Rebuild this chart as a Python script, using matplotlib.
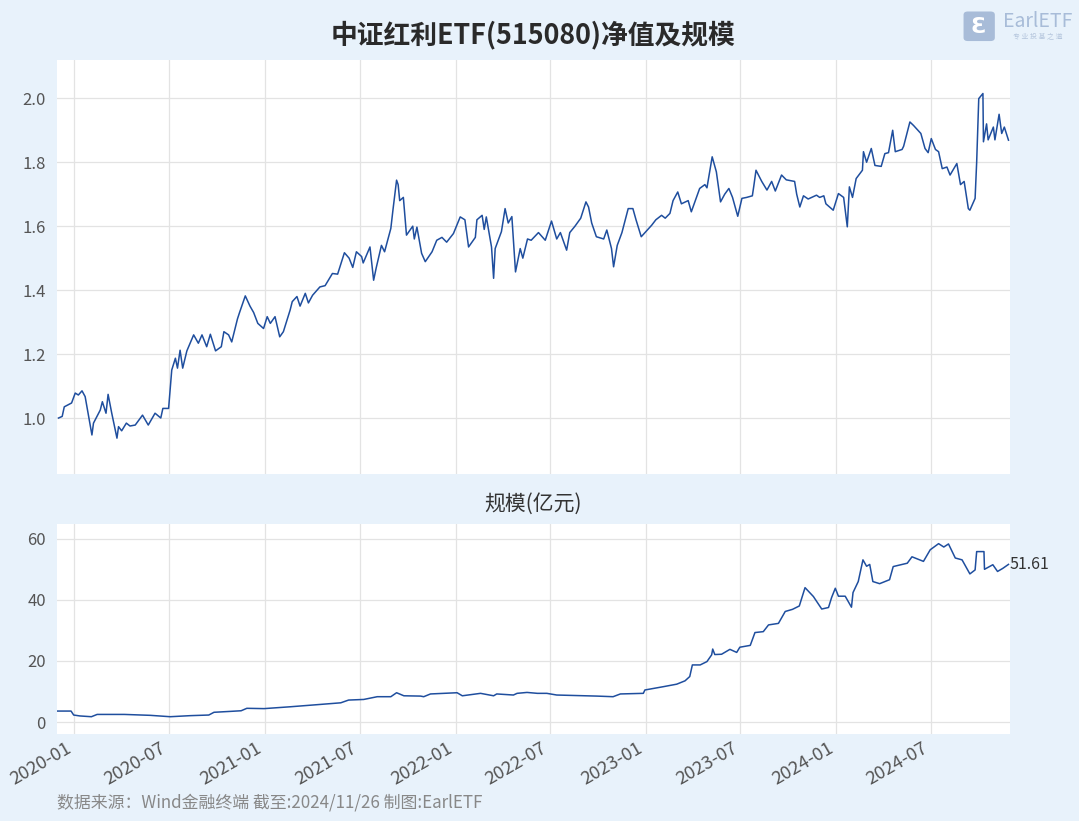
import matplotlib.pyplot as plt
import matplotlib.dates as mdates
from matplotlib.patches import FancyBboxPatch
import pandas as pd

plt.rcParams['font.family'] = ['Noto Sans CJK SC', 'DejaVu Sans']

# 净值
nav_dates = ['2019-12-02', '2019-12-09', '2019-12-13', '2019-12-27', '2020-01-03', '2020-01-09', '2020-01-16',
             '2020-01-22', '2020-02-04', '2020-02-07', '2020-02-20', '2020-02-24', '2020-03-02', '2020-03-06',
             '2020-03-13', '2020-03-23', '2020-03-26', '2020-04-01', '2020-04-10', '2020-04-17', '2020-04-27',
             '2020-05-11', '2020-05-22', '2020-06-04', '2020-06-15', '2020-06-19', '2020-06-30', '2020-07-06',
             '2020-07-13', '2020-07-17', '2020-07-22', '2020-07-27', '2020-08-04', '2020-08-17', '2020-08-26',
             '2020-09-02', '2020-09-11', '2020-09-18', '2020-09-28', '2020-10-09', '2020-10-14', '2020-10-23',
             '2020-10-29', '2020-11-09', '2020-11-13', '2020-11-24', '2020-12-03', '2020-12-10', '2020-12-18',
             '2020-12-29', '2021-01-05', '2021-01-11', '2021-01-20', '2021-01-29', '2021-02-05', '2021-02-18',
             '2021-02-22', '2021-03-03', '2021-03-09', '2021-03-19', '2021-03-25', '2021-04-02', '2021-04-16',
             '2021-04-26', '2021-05-10', '2021-05-20', '2021-06-02', '2021-06-11', '2021-06-18', '2021-06-25',
             '2021-07-05', '2021-07-08', '2021-07-21', '2021-07-28', '2021-08-02', '2021-08-12', '2021-08-18',
             '2021-08-30', '2021-09-03', '2021-09-10', '2021-09-13', '2021-09-16', '2021-09-23', '2021-09-29',
             '2021-10-11', '2021-10-14', '2021-10-19', '2021-10-28', '2021-11-04', '2021-11-17', '2021-11-26',
             '2021-12-06', '2021-12-15', '2021-12-28', '2022-01-10', '2022-01-19', '2022-01-26', '2022-02-08',
             '2022-02-11', '2022-02-21', '2022-02-25', '2022-03-01', '2022-03-11', '2022-03-15', '2022-03-18',
             '2022-03-30', '2022-04-06', '2022-04-12', '2022-04-19', '2022-04-26', '2022-05-05', '2022-05-10',
             '2022-05-19', '2022-05-26', '2022-06-09', '2022-06-22', '2022-07-04', '2022-07-14', '2022-07-21',
             '2022-08-02', '2022-08-08', '2022-08-18', '2022-08-29', '2022-09-08', '2022-09-13', '2022-09-19',
             '2022-09-28', '2022-10-12', '2022-10-18', '2022-10-27', '2022-10-31', '2022-11-07', '2022-11-16',
             '2022-11-28', '2022-12-07', '2022-12-13', '2022-12-23', '2023-01-03', '2023-01-12', '2023-01-20',
             '2023-01-31', '2023-02-07', '2023-02-16', '2023-02-22', '2023-03-03', '2023-03-10', '2023-03-23',
             '2023-03-29', '2023-04-14', '2023-04-24', '2023-04-28', '2023-05-08', '2023-05-16', '2023-05-24',
             '2023-06-01', '2023-06-09', '2023-06-16', '2023-06-26', '2023-07-04', '2023-07-13', '2023-07-24',
             '2023-07-27', '2023-07-31', '2023-08-11', '2023-08-21', '2023-08-30', '2023-09-06', '2023-09-18',
             '2023-09-27', '2023-10-13', '2023-10-17', '2023-10-23', '2023-10-30', '2023-11-08', '2023-11-24',
             '2023-11-30', '2023-12-08', '2023-12-12', '2023-12-26', '2024-01-05', '2024-01-15', '2024-01-22',
             '2024-01-26', '2024-02-01', '2024-02-08', '2024-02-20', '2024-02-22', '2024-02-28', '2024-03-08',
             '2024-03-15', '2024-03-27', '2024-04-03', '2024-04-10', '2024-04-18', '2024-04-23', '2024-05-06',
             '2024-05-09', '2024-05-21', '2024-05-28', '2024-06-11', '2024-06-19', '2024-06-25', '2024-07-01',
             '2024-07-09', '2024-07-15', '2024-07-22', '2024-07-31', '2024-08-06', '2024-08-19', '2024-08-26',
             '2024-09-02', '2024-09-10', '2024-09-13', '2024-09-23', '2024-09-26', '2024-09-30', '2024-10-08',
             '2024-10-09', '2024-10-15', '2024-10-18', '2024-10-28', '2024-10-31', '2024-11-08', '2024-11-13',
             '2024-11-18', '2024-11-26']
nav_values = [1.000, 1.005, 1.035, 1.047, 1.078, 1.072, 1.085,
              1.067, 0.947, 0.984, 1.025, 1.051, 1.015, 1.074,
              1.015, 0.937, 0.973, 0.960, 0.984, 0.975, 0.978,
              1.009, 0.978, 1.015, 1.000, 1.030, 1.030, 1.150,
              1.187, 1.156, 1.212, 1.156, 1.210, 1.260, 1.234,
              1.260, 1.223, 1.262, 1.210, 1.223, 1.270, 1.260,
              1.238, 1.310, 1.330, 1.382, 1.350, 1.330, 1.296,
              1.280, 1.317, 1.296, 1.317, 1.254, 1.270, 1.338,
              1.364, 1.380, 1.350, 1.390, 1.360, 1.384, 1.410,
              1.414, 1.452, 1.450, 1.517, 1.500, 1.471, 1.520,
              1.505, 1.485, 1.535, 1.431, 1.470, 1.540, 1.520,
              1.593, 1.650, 1.744, 1.730, 1.680, 1.690, 1.572,
              1.600, 1.560, 1.597, 1.515, 1.489, 1.520, 1.556,
              1.565, 1.550, 1.577, 1.629, 1.620, 1.535, 1.565,
              1.620, 1.634, 1.590, 1.629, 1.535, 1.437, 1.530,
              1.583, 1.655, 1.610, 1.630, 1.457, 1.530, 1.500,
              1.560, 1.556, 1.580, 1.556, 1.616, 1.560, 1.580,
              1.525, 1.580, 1.600, 1.625, 1.676, 1.660, 1.610,
              1.567, 1.560, 1.588, 1.530, 1.473, 1.540, 1.580,
              1.655, 1.655, 1.620, 1.567, 1.587, 1.603, 1.620,
              1.634, 1.625, 1.640, 1.680, 1.707, 1.670, 1.680,
              1.645, 1.718, 1.730, 1.720, 1.817, 1.770, 1.676,
              1.700, 1.718, 1.690, 1.631, 1.687, 1.690, 1.695,
              1.728, 1.775, 1.740, 1.713, 1.740, 1.710, 1.760,
              1.745, 1.740, 1.700, 1.660, 1.695, 1.685, 1.697,
              1.690, 1.695, 1.670, 1.650, 1.702, 1.690, 1.598,
              1.723, 1.690, 1.749, 1.775, 1.833, 1.800, 1.843,
              1.790, 1.787, 1.827, 1.830, 1.900, 1.833, 1.840,
              1.850, 1.926, 1.915, 1.890, 1.843, 1.830, 1.874,
              1.840, 1.833, 1.780, 1.785, 1.760, 1.796, 1.730,
              1.740, 1.655, 1.650, 1.687, 1.800, 1.999, 2.015,
              1.864, 1.920, 1.870, 1.910, 1.870, 1.950, 1.890,
              1.910, 1.869]

# 规模 (亿元)
aum_dates = ['2019-11-29', '2019-12-26', '2019-12-31', '2020-01-12', '2020-02-03', '2020-02-14', '2020-04-06',
             '2020-05-26', '2020-07-03', '2020-08-11', '2020-09-15', '2020-09-25', '2020-10-27', '2020-11-16',
             '2020-11-27', '2020-12-30', '2021-02-18', '2021-04-04', '2021-05-26', '2021-06-10', '2021-07-09',
             '2021-08-04', '2021-08-30', '2021-09-10', '2021-09-24', '2021-10-26', '2021-11-01', '2021-11-14',
             '2022-01-04', '2022-01-14', '2022-02-18', '2022-03-15', '2022-03-21', '2022-04-22', '2022-04-29',
             '2022-05-18', '2022-06-07', '2022-06-25', '2022-07-14', '2022-09-29', '2022-10-30', '2022-11-13',
             '2022-12-27', '2022-12-30', '2023-02-04', '2023-03-01', '2023-03-17', '2023-03-26', '2023-03-31',
             '2023-04-15', '2023-04-28', '2023-05-07', '2023-05-09', '2023-05-13', '2023-05-26', '2023-06-11',
             '2023-06-24', '2023-06-30', '2023-07-20', '2023-07-29', '2023-08-14', '2023-08-24', '2023-09-12',
             '2023-09-25', '2023-10-09', '2023-10-22', '2023-11-02', '2023-11-18', '2023-12-04', '2023-12-17',
             '2023-12-23', '2023-12-30', '2024-01-05', '2024-01-18', '2024-01-30', '2024-02-02', '2024-02-12',
             '2024-02-21', '2024-02-28', '2024-03-05', '2024-03-11', '2024-03-24', '2024-04-12', '2024-04-19',
             '2024-05-16', '2024-05-25', '2024-06-16', '2024-06-29', '2024-07-15', '2024-07-25', '2024-08-03',
             '2024-08-16', '2024-08-29', '2024-09-13', '2024-09-23', '2024-09-26', '2024-10-10', '2024-10-11',
             '2024-10-27', '2024-11-05', '2024-11-15', '2024-11-26']
aum_values = [3.6, 3.6, 2.3, 2.0, 1.75, 2.5, 2.5,
              2.2, 1.75, 2.1, 2.3, 3.2, 3.5, 3.7,
              4.5, 4.4, 5.0, 5.6, 6.3, 7.2, 7.4,
              8.3, 8.3, 9.6, 8.6, 8.5, 8.3, 9.2,
              9.6, 8.6, 9.4, 8.6, 9.2, 8.85, 9.4,
              9.7, 9.4, 9.4, 8.85, 8.5, 8.3, 9.2,
              9.4, 10.5, 11.6, 12.4, 13.5, 14.9, 18.7,
              18.7, 19.8, 22.0, 23.9, 22.1, 22.2, 23.8,
              22.8, 24.5, 25.1, 29.3, 29.6, 31.8, 32.3,
              36.2, 36.9, 38.0, 44.0, 41.1, 37.0, 37.5,
              40.8, 43.8, 41.2, 41.2, 37.6, 42.4, 46.0,
              53.1, 51.0, 51.6, 46.0, 45.3, 46.6, 50.9,
              52.0, 54.1, 52.6, 56.4, 58.4, 57.3, 58.3,
              53.7, 53.1, 48.5, 49.8, 55.8, 55.8, 50.0,
              51.5, 49.3, 50.3, 51.61]

nav_x = pd.to_datetime(nav_dates)
aum_x = pd.to_datetime(aum_dates)

bg = '#e8f2fb'
line_color = '#1f4e9e'
tick_color = '#555555'

fig = plt.figure(figsize=(10.79, 8.21), dpi=100, facecolor=bg)
ax1 = fig.add_axes([0.0528, 0.4227, 0.8833, 0.5043])
ax2 = fig.add_axes([0.0528, 0.1060, 0.8833, 0.2560], sharex=ax1)

ax1.plot(nav_x, nav_values, color=line_color, linewidth=1.1)
ax2.plot(aum_x, aum_values, color=line_color, linewidth=1.1)

for ax in (ax1, ax2):
    ax.set_facecolor('white')
    for s in ax.spines.values():
        s.set_visible(False)
    ax.grid(True, color='#e3e3e3', linewidth=0.9)
    ax.set_axisbelow(True)
    ax.tick_params(length=0, labelsize=12, labelcolor=tick_color, pad=8)

ax1.set_ylim(0.825, 2.12)
ax1.set_yticks([1.0, 1.2, 1.4, 1.6, 1.8, 2.0])
ax1.set_yticklabels(['1.0', '1.2', '1.4', '1.6', '1.8', '2.0'])
ax2.set_ylim(-3.9, 64.9)
ax2.set_yticks([0, 20, 40, 60])

ax2.set_xlim(pd.Timestamp('2019-11-29'), pd.Timestamp('2024-11-29'))
ax2.xaxis.set_major_locator(mdates.MonthLocator(bymonth=[1, 7]))
ax2.xaxis.set_major_formatter(mdates.DateFormatter('%Y-%m'))
plt.setp(ax1.get_xticklabels(), visible=False)
plt.setp(ax2.get_xticklabels(), rotation=30, ha='right', fontsize=13.3)
ax2.tick_params(axis='x', pad=4)

ax2.annotate(f'{aum_values[-1]:.2f}', xy=(aum_x[-1], aum_values[-1]), xytext=(1, 0),
             textcoords='offset points', va='center', ha='left', fontsize=11.5, color='#333333',
             annotation_clip=False)

fig.text(0.494, 0.957, '中证红利ETF(515080)净值及规模', ha='center', va='center',
         fontsize=19.3, fontweight='bold', color='#2a2a2a')
fig.text(0.494, 0.386, '规模(亿元)', ha='center', va='center', fontsize=15, color='#333333')
fig.text(0.053, 0.022, '数据来源：Wind金融终端 截至:2024/11/26 制图:EarlETF', ha='left', va='center',
         fontsize=12.2, color='#888888')

# watermark logo
logo = FancyBboxPatch((0.893, 0.950), 0.029, 0.036, boxstyle='round,pad=0.0,rounding_size=0.004',
                      transform=fig.transFigure, facecolor='#a8bcd8', edgecolor='none')
fig.patches.append(logo)
fig.text(0.907, 0.968, 'Ɛ', ha='center', va='center', fontsize=16, color='white', fontweight='bold')
fig.text(0.962, 0.974, 'EarlETF', ha='center', va='center', fontsize=14, color='#a8bcd8')
fig.text(0.962, 0.955, '专 业 投 基 之 道', ha='center', va='center', fontsize=5, color='#b5c6dd')

fig.savefig('out.png', dpi=100, facecolor=bg)
